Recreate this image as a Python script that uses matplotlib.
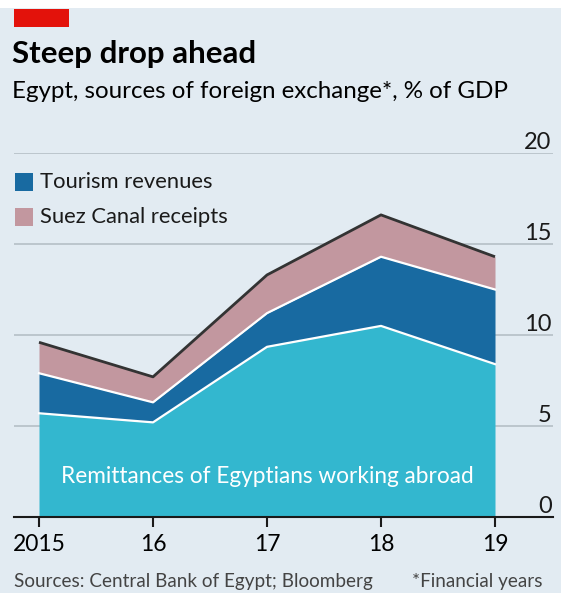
import numpy as np
import matplotlib
matplotlib.use("Agg")
import matplotlib.pyplot as plt
from matplotlib.patches import Rectangle

plt.rcParams['font.family'] = ['Lato', 'DejaVu Sans']

# ==============================
# Data (% of GDP, financial years)
# ==============================
years = [2015, 2016, 2017, 2018, 2019]
year_labels = ["2015", "16", "17", "18", "19"]
remittances = [5.7, 5.2, 9.35, 10.5, 8.4]
tourism = [2.2, 1.1, 1.85, 3.8, 4.1]
suez = [1.7, 1.4, 2.1, 2.3, 1.8]
y_ticks = [0, 5, 10, 15, 20]

bg = "#e2ebf2"
c_remit = "#33b7cf"
c_tour = "#186aa1"
c_suez = "#c2979f"

# ==============================
# Figure
# ==============================
W, H = 561, 593
fig = plt.figure(figsize=(W / 100, H / 100), dpi=100, facecolor=bg)

# white strip at very top + red tag
fig.patches.append(Rectangle((0, 1 - 8 / H), 1, 8 / H, transform=fig.transFigure,
                             facecolor="white", edgecolor="none"))
fig.patches.append(Rectangle((14 / W, 1 - 27 / H), 55 / W, 18 / H, transform=fig.transFigure,
                             facecolor="#e3120b", edgecolor="none"))

fig.text(12 / W, 1 - 63 / H, "Steep drop ahead", fontsize=22.5, fontweight="bold",
         va="baseline", ha="left", color="black")
fig.text(12 / W, 1 - 98 / H, "Egypt, sources of foreign exchange*, % of GDP", fontsize=17.4,
         va="baseline", ha="left", color="black")

left, right, bottom, top = 14, 553, 517, 153
ax = fig.add_axes([left / W, 1 - bottom / H, (right - left) / W, (bottom - top) / H])
ax.set_facecolor(bg)

r = np.array(remittances)
t = r + np.array(tourism)
s = t + np.array(suez)

ax.fill_between(years, 0, r, color=c_remit, lw=0, zorder=2)
ax.fill_between(years, r, t, color=c_tour, lw=0, zorder=2)
ax.fill_between(years, t, s, color=c_suez, lw=0, zorder=2)
ax.plot(years, r, color="white", lw=1.6, zorder=3)
ax.plot(years, t, color="white", lw=1.6, zorder=3)
ax.plot(years, s, color="#333333", lw=2.0, zorder=3, solid_capstyle="butt")

px_per_year = 114
ax.set_xlim(2015 - 25 / px_per_year, 2019 + 58 / px_per_year)
ax.set_ylim(0, 20)

ax.set_yticks(y_ticks)
ax.yaxis.tick_right()
ax.tick_params(axis="y", length=0, pad=-1, labelsize=17, labelcolor="#1a1a1a")
for lab in ax.get_yticklabels():
    lab.set_horizontalalignment("right")
    lab.set_verticalalignment("bottom")
ax.grid(axis="y", color="#b9c3ca", lw=1.3, zorder=1)

ax.set_xticks(years)
ax.set_xticklabels(year_labels)
ax.tick_params(axis="x", length=7, width=1.5, color="#1a1a1a", labelsize=16.5, pad=5)

for sp in ["top", "left", "right"]:
    ax.spines[sp].set_visible(False)
ax.spines["bottom"].set_color("#1a1a1a")
ax.spines["bottom"].set_linewidth(1.5)
ax.spines["bottom"].set_zorder(4)

ax.text(2017, 1.85, "Remittances of Egyptians working abroad", color="white",
        fontsize=16.3, ha="center", va="baseline", zorder=5)

# legend
for i, (lab, col) in enumerate([("Tourism revenues", c_tour), ("Suez Canal receipts", c_suez)]):
    yc = 182 + i * 35
    fig.patches.append(Rectangle((15 / W, 1 - (yc + 9) / H), 18 / W, 18 / H,
                                 transform=fig.transFigure, facecolor=col, edgecolor="none"))
    fig.text(40 / W, 1 - yc / H, lab, fontsize=15.8, va="center", ha="left", color="#1a1a1a")

fig.text(14 / W, 1 - 587 / H, "Sources: Central Bank of Egypt; Bloomberg", fontsize=13.6,
         va="baseline", ha="left", color="#444444")
fig.text(543 / W, 1 - 587 / H, "*Financial years", fontsize=13.6,
         va="baseline", ha="right", color="#444444")

fig.savefig("out.png", dpi=100, facecolor=bg)
